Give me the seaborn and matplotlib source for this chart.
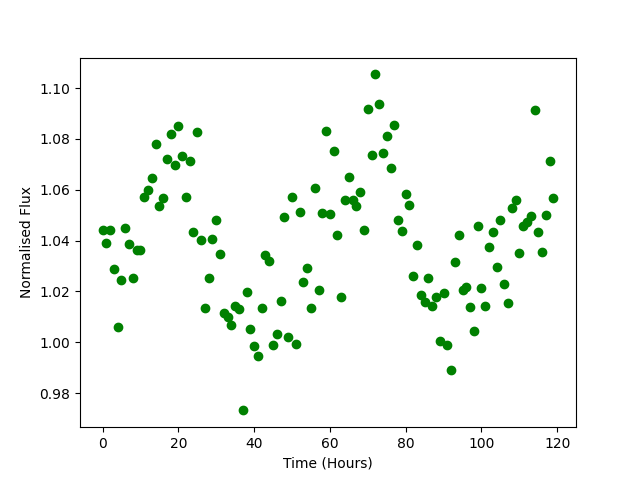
import numpy as np
import pandas as pd
import matplotlib
matplotlib.use("Agg")
import matplotlib.pyplot as plt
import seaborn as sns

# hourly normalised flux readings
hours = np.arange(120)
flux = [
    1.044, 1.039, 1.044, 1.029, 1.006, 1.0245, 1.0448, 1.0386, 1.0251, 1.0363,
    1.0365, 1.057, 1.0599, 1.0645, 1.0782, 1.0536, 1.0566, 1.072, 1.0819, 1.0696,
    1.085, 1.0732, 1.057, 1.0713, 1.0432, 1.0827, 1.0402, 1.0133, 1.0251, 1.0405,
    1.048, 1.0346, 1.0117, 1.0099, 1.0068, 1.0142, 1.0129, 0.9732, 1.0197, 1.0051,
    0.9985, 0.9948, 1.0133, 1.0343, 1.0318, 0.9991, 1.0031, 1.0162, 1.0492, 1.0019,
    1.057, 0.9995, 1.0511, 1.0239, 1.0294, 1.0133, 1.0609, 1.0204, 1.0507, 1.0833,
    1.0503, 1.0751, 1.0424, 1.0177, 1.0558, 1.0649, 1.0558, 1.0538, 1.059, 1.044,
    1.0916, 1.0735, 1.1054, 1.0936, 1.0743, 1.081, 1.0684, 1.0853, 1.048, 1.0436,
    1.0582, 1.0542, 1.0259, 1.0381, 1.0188, 1.0157, 1.0251, 1.0141, 1.0177, 1.0007,
    1.0193, 0.9988, 0.9889, 1.0314, 1.0424, 1.0204, 1.0216, 1.0137, 1.0043, 1.0457,
    1.0212, 1.0141, 1.0373, 1.0432, 1.0298, 1.048, 1.0228, 1.0153, 1.0527, 1.0558,
    1.035, 1.0457, 1.0475, 1.0495, 1.0912, 1.0432, 1.0357, 1.0499, 1.0712, 1.0566,
]

df = pd.DataFrame({"hours": hours, "flux": flux})

fig, ax = plt.subplots(figsize=(6.4, 4.8), dpi=100)
sns.scatterplot(data=df, x="hours", y="flux", color="green",
                s=36, edgecolor="green", linewidth=1, ax=ax)
ax.set_xlabel("Time (Hours)")
ax.set_ylabel("Normalised Flux")

fig.savefig("out.png", dpi=100)
